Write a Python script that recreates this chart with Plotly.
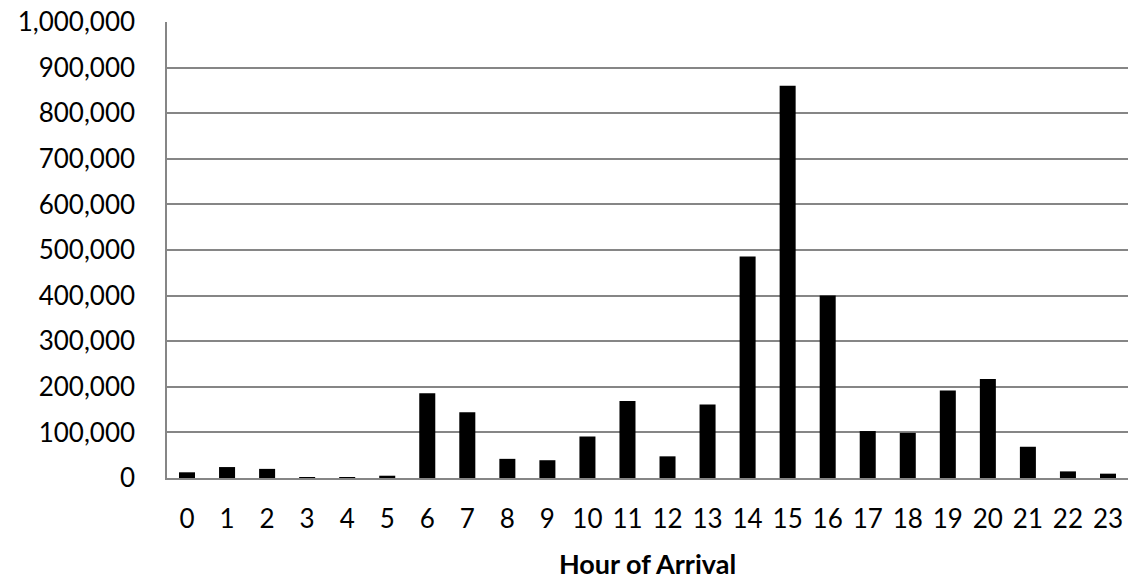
import plotly.graph_objects as go

hours = [str(h) for h in range(24)]
arrivals = [12500, 24000, 20000, 1500, 500, 5000, 186000, 144000, 42000, 39000,
            91000, 169000, 47500, 161000, 486000, 860000, 400000, 103000, 99000,
            192000, 217000, 68500, 14500, 9500]

y_ticks = list(range(0, 1000001, 100000))
y_tick_text = [f"{v:,}" for v in y_ticks]

FONT = "Lato, 'Open Sans', sans-serif"

fig = go.Figure(
    go.Bar(
        x=hours,
        y=arrivals,
        marker=dict(color="#000000", line=dict(color="#000000", width=0)),
    )
)

fig.update_layout(
    width=1130,
    height=582,
    margin=dict(l=167, r=2, t=22, b=104),
    paper_bgcolor="white",
    plot_bgcolor="white",
    bargap=0.6,
    showlegend=False,
    font=dict(family=FONT, size=26, color="#000000"),
)

fig.update_xaxes(
    type="category",
    showgrid=False,
    showline=True,
    linecolor="#868686",
    linewidth=1.5,
    ticks="",
    ticklabelstandoff=17,
    tickfont=dict(size=26),
    title=dict(text="<b>Hour of Arrival</b>", font=dict(size=27), standoff=22),
)

fig.update_yaxes(
    range=[0, 1000000],
    tickvals=y_ticks,
    ticktext=y_tick_text,
    showgrid=True,
    gridcolor="#868686",
    gridwidth=1.5,
    showline=True,
    linecolor="#868686",
    linewidth=1.5,
    ticks="",
    ticklabelstandoff=25,
    tickfont=dict(size=26),
    zeroline=False,
)

fig.write_html("out.html")
